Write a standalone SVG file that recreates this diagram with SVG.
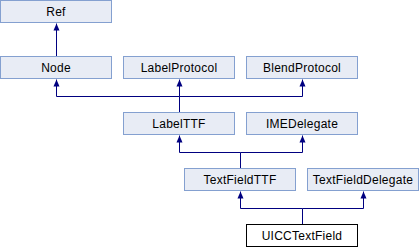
<svg xmlns="http://www.w3.org/2000/svg" width="420" height="248" viewBox="0 0 420 248">
<style>
.b{fill:#E8ECF5;stroke:#84A0D0;stroke-width:1}
.m{fill:#FFFFFF;stroke:#000000;stroke-width:1}
.t{font-family:"Liberation Sans",Arial,sans-serif;font-size:12px;letter-spacing:0.25px;fill:#000000;text-anchor:middle}
.c{fill:none;stroke:#000080;stroke-width:1}
</style>
<defs>
<marker id="ah" markerUnits="userSpaceOnUse" viewBox="0 0 7 7" refX="7" refY="3.5" markerWidth="7" markerHeight="7" orient="auto">
<path d="M0,0.5 L7,3.5 L0,6.5 z" fill="#000080"/>
</marker>
</defs>
<rect width="420" height="248" fill="#FFFFFF"/>
<g id="connectors">
<path class="c" d="M56.5,56 V23.5" marker-end="url(#ah)"/>
<path class="c" d="M179.5,112 V96.5 H56.5 V79.5" marker-end="url(#ah)"/>
<path class="c" d="M179.5,96.5 V79.5" marker-end="url(#ah)"/>
<path class="c" d="M179.5,96.5 H302.5 V79.5" marker-end="url(#ah)"/>
<path class="c" d="M240.5,168 V152.5 H179.5 V135.5" marker-end="url(#ah)"/>
<path class="c" d="M240.5,152.5 H302.5 V135.5" marker-end="url(#ah)"/>
<path class="c" d="M302.5,224 V208.5 H240.5 V191.5" marker-end="url(#ah)"/>
<path class="c" d="M302.5,208.5 H363.5 V191.5" marker-end="url(#ah)"/>
</g>
<g id="Ref"><rect class="b" x="0.5" y="0.5" width="111" height="22"/><text class="t" x="56" y="16">Ref</text></g>
<g id="Node"><rect class="b" x="0.5" y="56.5" width="111" height="22"/><text class="t" x="56" y="72">Node</text></g>
<g id="LabelProtocol"><rect class="b" x="123.5" y="56.5" width="111" height="22"/><text class="t" x="179" y="72">LabelProtocol</text></g>
<g id="BlendProtocol"><rect class="b" x="246.5" y="56.5" width="111" height="22"/><text class="t" x="302" y="72">BlendProtocol</text></g>
<g id="LabelTTF"><rect class="b" x="123.5" y="112.5" width="111" height="22"/><text class="t" x="179" y="128">LabelTTF</text></g>
<g id="IMEDelegate"><rect class="b" x="246.5" y="112.5" width="111" height="22"/><text class="t" x="302" y="128">IMEDelegate</text></g>
<g id="TextFieldTTF"><rect class="b" x="184.5" y="168.5" width="111" height="22"/><text class="t" x="240" y="184">TextFieldTTF</text></g>
<g id="TextFieldDelegate"><rect class="b" x="307.5" y="168.5" width="111" height="22"/><text class="t" x="363" y="184">TextFieldDelegate</text></g>
<g id="UICCTextField"><rect class="m" x="246.5" y="224.5" width="111" height="22"/><text class="t" x="302" y="240">UICCTextField</text></g>
</svg>
